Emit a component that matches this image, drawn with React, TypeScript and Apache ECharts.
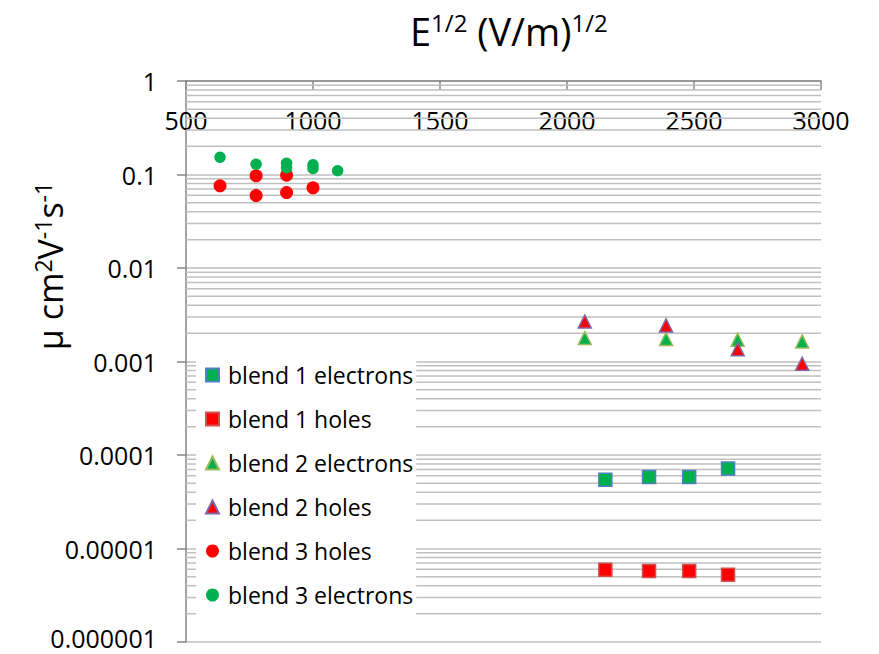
import React, { useEffect, useRef } from "react";
import * as echarts from "echarts";

const FONT = "'Open Sans', 'Noto Sans', sans-serif";

const seriesNames = [
  "blend 1 electrons",
  "blend 1 holes",
  "blend 2 electrons",
  "blend 2 holes",
  "blend 3 holes",
  "blend 3 electrons",
];

const blend1Electrons: [number, number][] = [
  [2151, 5.42e-5],
  [2323, 5.8e-5],
  [2481, 5.8e-5],
  [2634, 7.18e-5],
];
const blend1Holes: [number, number][] = [
  [2151, 5.94e-6],
  [2323, 5.74e-6],
  [2481, 5.74e-6],
  [2634, 5.25e-6],
];
const blend2Electrons: [number, number][] = [
  [2070, 1.78e-3],
  [2390, 1.74e-3],
  [2672, 1.71e-3],
  [2926, 1.64e-3],
];
const blend2Holes: [number, number][] = [
  [2070, 2.67e-3],
  [2390, 2.43e-3],
  [2672, 1.35e-3],
  [2926, 9.47e-4],
];
const blend3Holes: [number, number][] = [
  [634, 0.0757],
  [776, 0.0968],
  [776, 0.0596],
  [896, 0.0983],
  [896, 0.0641],
  [1000, 0.072],
];
const blend3Electrons: [number, number][] = [
  [634, 0.1532],
  [776, 0.129],
  [896, 0.1322],
  [896, 0.118],
  [1000, 0.127],
  [1000, 0.116],
  [1097, 0.11],
];

const xTicks = [500, 1000, 1500, 2000, 2500, 3000];
const yTickLabels = ["0.000001", "0.00001", "0.0001", "0.001", "0.01", "0.1", "1"];
const decadeExponents = [-6, -5, -4, -3, -2, -1];
const minorMultipliers = [2, 3, 4, 5, 6, 7, 8, 9];

const minorGridValues: number[] = [];
decadeExponents.forEach((e) => {
  minorMultipliers.forEach((m) => {
    minorGridValues.push(Number((m * Math.pow(10, e)).toPrecision(3)));
  });
});

export default function App() {
  const ref = useRef<HTMLDivElement>(null);

  useEffect(() => {
    if (!ref.current) return;
    const chart = echarts.init(ref.current, undefined, { renderer: "svg" });
    const gridColor = "#BFBFBF";
    const axisColor = "#868686";

    const option: any = {
      animation: false,
      backgroundColor: "#ffffff",
      textStyle: { fontFamily: FONT },
      grid: { left: 186, top: 81, width: 635, height: 561, containLabel: false },
      graphic: [
        {
          type: "text",
          x: 410,
          y: 31,
          style: {
            text: "{a|E}{b|1/2}{a| (V/m)}{b|1/2}",
            align: "left",
            verticalAlign: "middle",
            fill: "#000",
            rich: {
              a: { fontSize: 38, fontFamily: FONT, fill: "#000", lineHeight: 42 },
              b: { fontSize: 24, fontFamily: FONT, fill: "#000", verticalAlign: "top", lineHeight: 31 },
            },
          },
          z: 10,
        },
        {
          type: "text",
          x: 50,
          y: 266,
          rotation: Math.PI / 2,
          style: {
            text: "{a|μ cm}{b|2}{a|V}{b|-1}{a|s}{b|-1}",
            align: "center",
            verticalAlign: "middle",
            fill: "#000",
            rich: {
              a: { fontSize: 34, fontFamily: FONT, fill: "#000", lineHeight: 38 },
              b: { fontSize: 23, fontFamily: FONT, fill: "#000", verticalAlign: "top", lineHeight: 28 },
            },
          },
          z: 10,
        },
      ],
      legend: {
        orient: "vertical",
        left: 196,
        top: 348,
        backgroundColor: "#ffffff",
        padding: [5, 3, 5, 9],
        itemWidth: 13,
        itemHeight: 13,
        itemGap: 0,
        data: seriesNames,
        textStyle: {
          fontFamily: FONT,
          fontSize: 23,
          color: "#000",
          lineHeight: 44,
          padding: [0, 0, 0, 4],
        },
      },
      xAxis: {
        type: "value",
        position: "top",
        min: 500,
        max: 3000,
        interval: 500,
        axisLine: { show: true, onZero: false, lineStyle: { color: axisColor, width: 1.5 } },
        axisTick: { show: true, inside: true, length: 9, lineStyle: { color: axisColor, width: 1.5 } },
        axisLabel: {
          inside: true,
          margin: 26,
          fontSize: 25,
          fontFamily: FONT,
          color: "#000",
          formatter: (v: number) => {
            const i = xTicks.indexOf(Math.round(v));
            return i >= 0 ? String(xTicks[i]) : "";
          },
        },
        splitLine: { show: false },
      },
      yAxis: {
        type: "log",
        logBase: 10,
        min: 1e-6,
        max: 1,
        axisLine: { show: true, lineStyle: { color: axisColor, width: 1.5 } },
        axisTick: { show: true, inside: false, length: 9, lineStyle: { color: axisColor, width: 1.5 } },
        axisLabel: {
          margin: 29,
          fontSize: 25,
          fontFamily: FONT,
          color: "#000",
          formatter: (v: number) => {
            const idx = Math.round(Math.log10(v)) + 6;
            const label = yTickLabels[idx] ?? "";
            return idx === 0 ? "{low|" + label + "}" : label;
          },
          rich: {
            low: { fontSize: 25, fontFamily: FONT, color: "#000", padding: [0, 0, 9, 0] },
          },
        },
        splitLine: { show: true, lineStyle: { color: gridColor, width: 1.5 } },
      },
      series: [
        {
          name: "minor grid",
          type: "custom",
          silent: true,
          z: 1,
          data: minorGridValues.map((v) => [v]),
          renderItem: (params: any, api: any) => {
            const v = api.value(0);
            const p1 = api.coord([500, v]);
            const p2 = api.coord([3000, v]);
            return {
              type: "line",
              shape: { x1: p1[0], y1: p1[1], x2: p2[0], y2: p2[1] },
              style: { stroke: gridColor, lineWidth: 1.5 },
            };
          },
          encode: { y: 0 },
        },
        {
          name: seriesNames[0],
          type: "scatter",
          symbol: "rect",
          symbolSize: 13,
          data: blend1Electrons,
          itemStyle: { color: "#00B050", borderColor: "#4F81BD", borderWidth: 1.5, opacity: 1 },
          z: 3,
        },
        {
          name: seriesNames[1],
          type: "scatter",
          symbol: "rect",
          symbolSize: 13,
          data: blend1Holes,
          itemStyle: { color: "#FF0000", borderColor: "#D0504D", borderWidth: 1.5, opacity: 1 },
          z: 3,
        },
        {
          name: seriesNames[2],
          type: "scatter",
          symbol: "triangle",
          symbolSize: 13,
          data: blend2Electrons,
          itemStyle: { color: "#00B050", borderColor: "#9BBB59", borderWidth: 1.5, opacity: 1 },
          z: 3,
        },
        {
          name: seriesNames[3],
          type: "scatter",
          symbol: "triangle",
          symbolSize: 13,
          data: blend2Holes,
          itemStyle: { color: "#FF0000", borderColor: "#8064A2", borderWidth: 1.5, opacity: 1 },
          z: 3,
        },
        {
          name: seriesNames[4],
          type: "scatter",
          symbol: "circle",
          symbolSize: 13,
          data: blend3Holes,
          itemStyle: { color: "#FF0000", opacity: 1 },
          z: 3,
        },
        {
          name: seriesNames[5],
          type: "scatter",
          symbol: "circle",
          symbolSize: 11.5,
          data: blend3Electrons,
          itemStyle: { color: "#00B050", opacity: 1 },
          z: 3,
        },
      ],
    };

    chart.setOption(option);
    return () => {
      chart.dispose();
    };
  }, []);

  return (
    <div
      ref={ref}
      style={{ position: "absolute", left: 0, top: 0, width: 879, height: 654 }}
    />
  );
}
